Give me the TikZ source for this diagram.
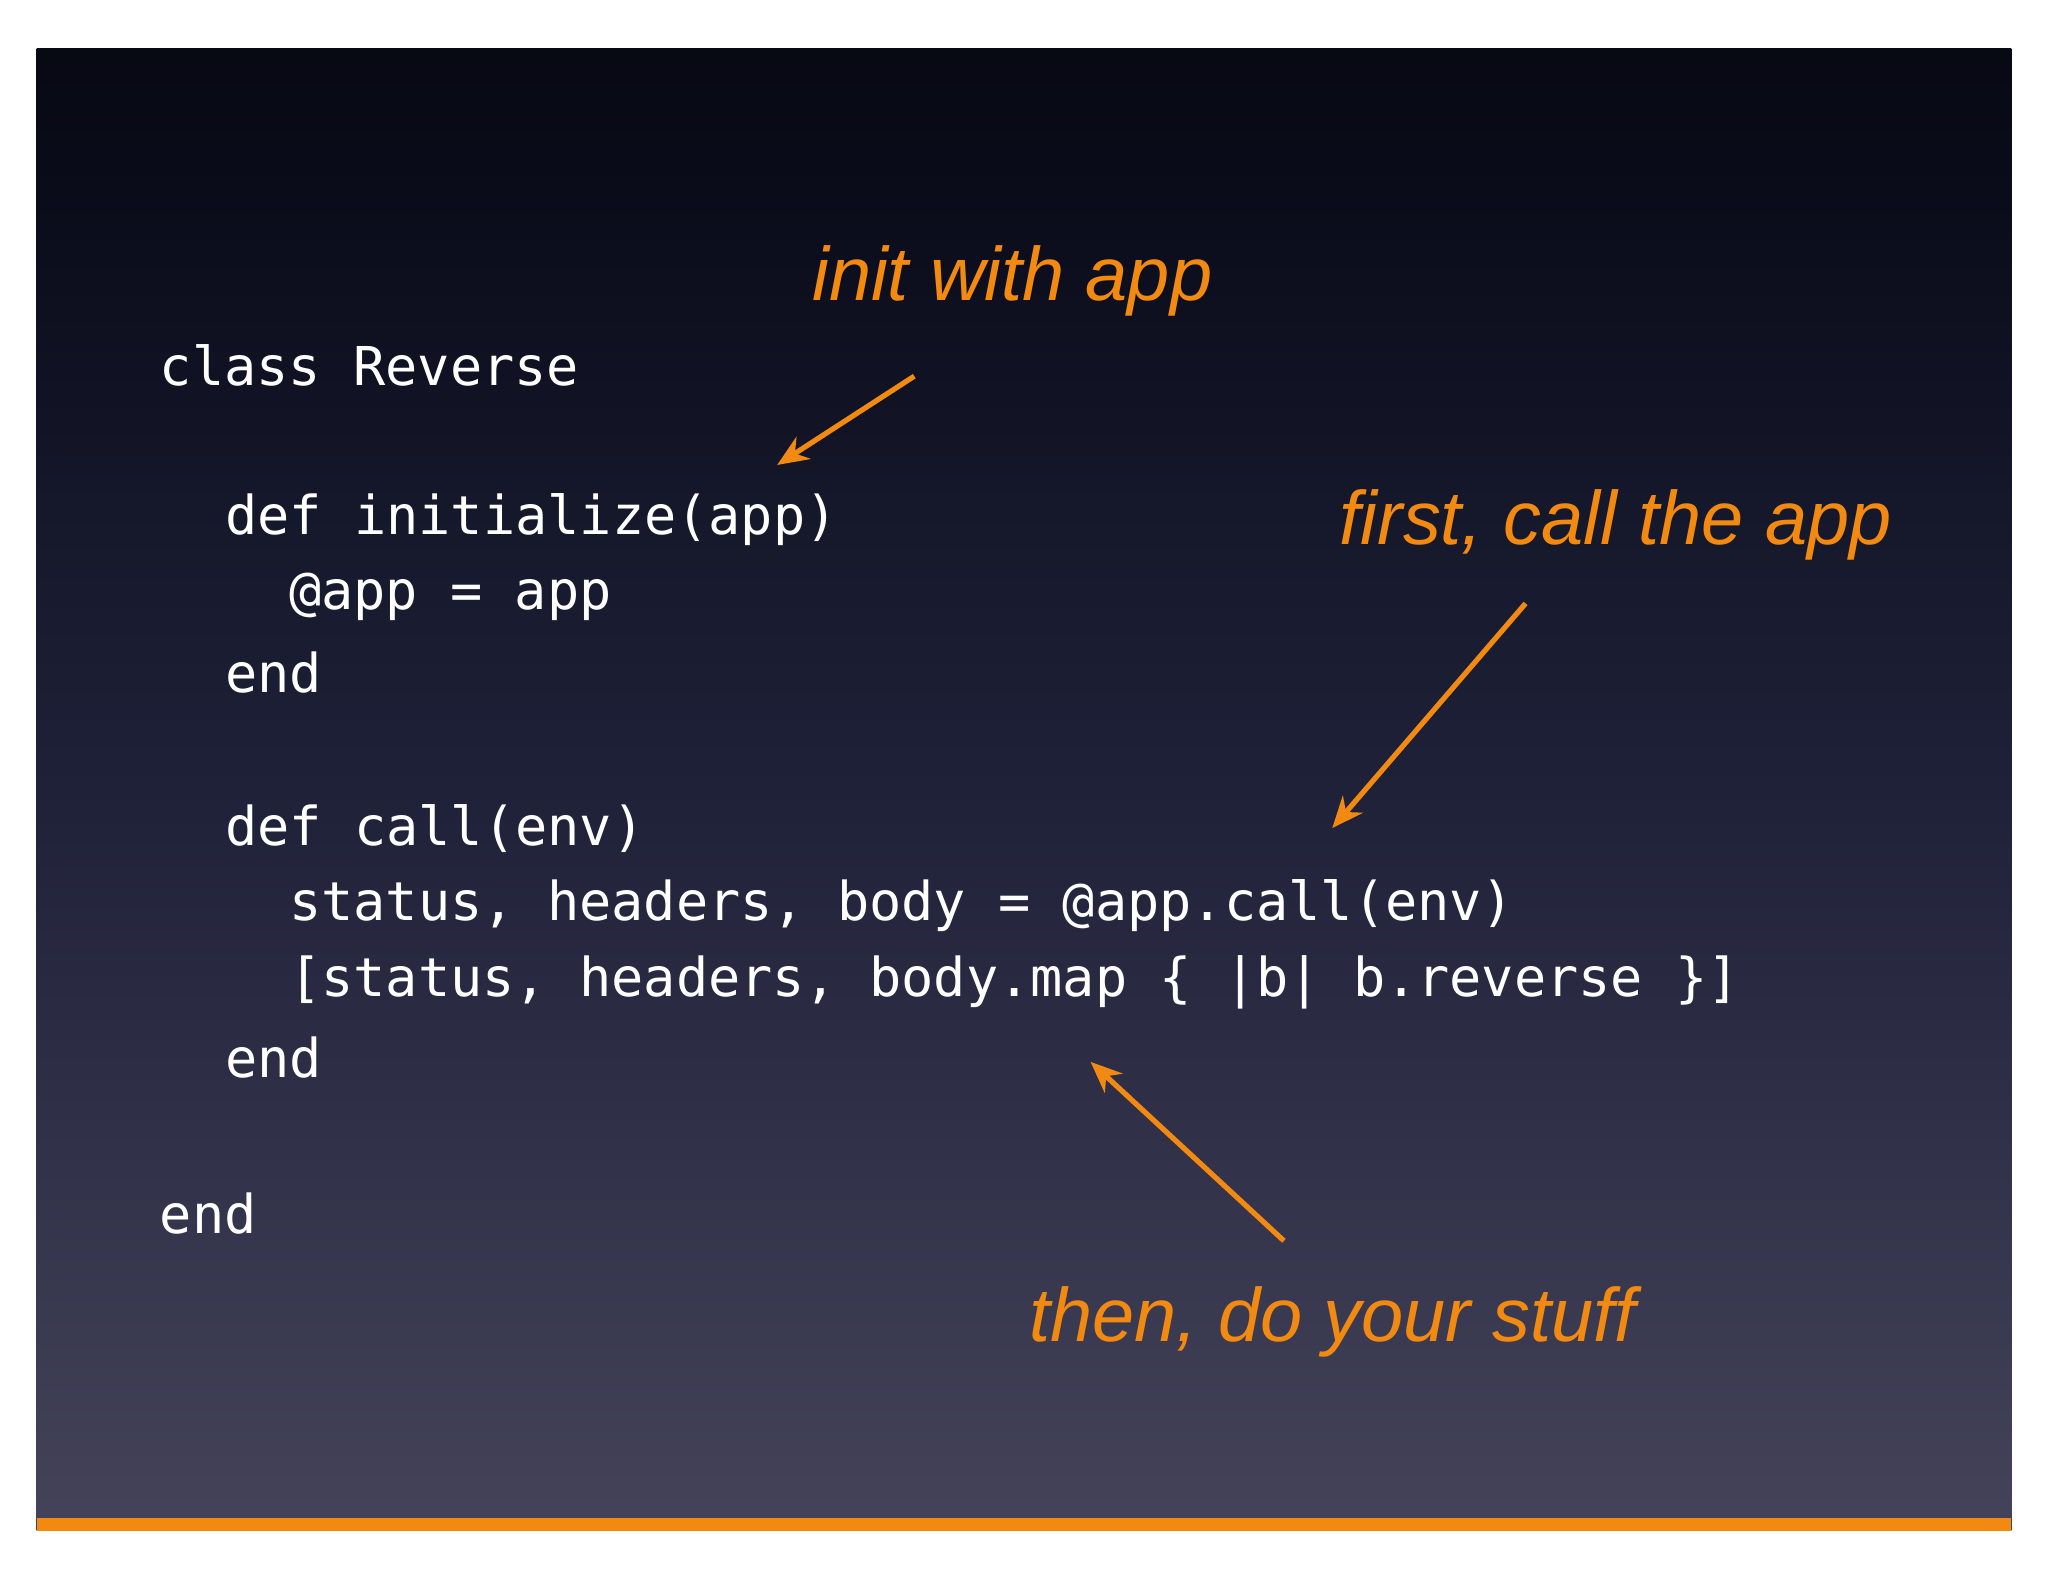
\documentclass[tikz,border=0pt]{standalone}
\usepackage{fontspec}
\setmonofont{DejaVu Sans Mono}
\setmainfont{Liberation Sans}
\usetikzlibrary{arrows.meta}
\definecolor{org}{HTML}{F28A12}
\definecolor{sa}{HTML}{60606F}
\definecolor{sb}{HTML}{44435A}
\definecolor{sc}{HTML}{1F2139}
\definecolor{sd}{HTML}{0A0C1A}
\pgfdeclareverticalshading{slidebg}{100bp}{
 color(0bp)=(sa);
 color(25bp)=(sb);
 color(50bp)=(sc);
 color(70bp)=(sd);
 color(88bp)=(black);
 color(100bp)=(black)}
\tikzset{
 code/.style={anchor=west,text=white,font=\ttfamily\fontsize{20.5}{24}\selectfont,inner sep=0pt},
 hand/.style={text=org,font=\itshape\fontsize{29}{32}\selectfont,inner sep=0pt},
 harrow/.style={draw=org,line width=2pt,-{Stealth[length=12pt,width=10pt]}}
}
\begin{document}
\begin{tikzpicture}[x=0.5pt,y=-0.5pt]
\useasboundingbox (0,0) rectangle (1568,1211);
\fill[white] (0,0) rectangle (1568,1211);
\shade[shading=slidebg] (28,37) rectangle (1540,1172);
\fill[org] (28,1162) rectangle (1540,1172);
\node[code] (l1) at (122,280) {class Reverse};
\node[code] (l2) at (172,398) {def initialize(app)};
\node[code] (l3) at (221,457) {@app = app};
\node[code] (l4) at (172,515) {end};
\node[code] (l5) at (172,634) {def call(env)};
\node[code] (l6) at (221,693) {status, headers, body = @app.call(env)};
\node[code] (l7) at (221,752) {[status, headers, body.map \{ |b| b.reverse \}]};
\node[code] (l8) at (172,810) {end};
\node[code] (l9) at (122,929) {end};
\node[hand] (h1) at (775,215) {init with app};
\node[hand] (h2) at (1237,402) {first, call the app};
\node[hand] (h3) at (1020,1012) {then, do your stuff};
\coordinate (a1s) at (700,288); \coordinate (a1e) at (595,356);
\coordinate (a2s) at (1168,462); \coordinate (a2e) at (1020,634);
\coordinate (a3s) at (983,950); \coordinate (a3e) at (835,813);
\draw[harrow] (a1s) -- (a1e);
\draw[harrow] (a2s) -- (a2e);
\draw[harrow] (a3s) -- (a3e);
\end{tikzpicture}
\end{document}
